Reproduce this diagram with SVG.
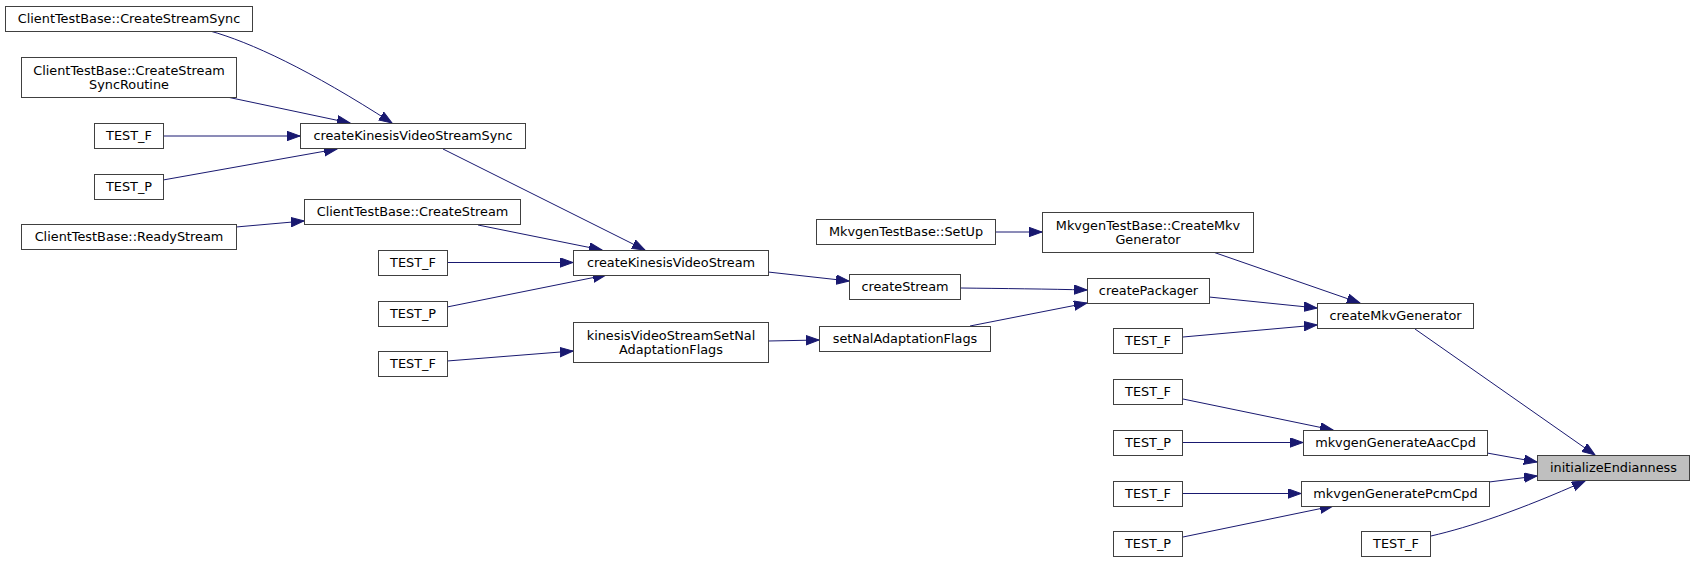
<svg xmlns="http://www.w3.org/2000/svg" width="1695" height="563" viewBox="0 0 1695 563">
<style>
.n rect{fill:#ffffff;stroke:#404040;stroke-width:1}
.n.root rect{fill:#bfbfbf;stroke:#404040}
.n text{font-family:"DejaVu Sans",sans-serif;font-size:12.85px;fill:#000000;text-anchor:middle}
.e path{fill:none;stroke:#191970;stroke-width:1;marker-end:url(#arr)}
</style>
<defs>
<marker id="arr" markerUnits="userSpaceOnUse" markerWidth="15" markerHeight="12" refX="13" refY="5" orient="auto">
<path d="M0,0.3 L13,5 L0,9.7 z" fill="#191970" stroke="#191970" stroke-width="1"/>
</marker>
</defs>
<rect width="1695" height="563" fill="#ffffff"/>
<g id="edges" class="e">
<path d="M210,31 C250,42 310,70 392,123"/>
<path d="M227,97 L350,123"/>
<path d="M163,136 L300,136"/>
<path d="M163,180 L337,149"/>
<path d="M236,227 L304,221"/>
<path d="M443,149 L645,250"/>
<path d="M478,225 L602,250"/>
<path d="M447,262.5 L573,262.5"/>
<path d="M447,307 L606,275"/>
<path d="M447,361 L573,351"/>
<path d="M768,272 L849,281"/>
<path d="M768,341 L819,340"/>
<path d="M995,232 L1042,232"/>
<path d="M961,288 C1000,288.5 1050,289 1087,290"/>
<path d="M970,326 L1087,303"/>
<path d="M1213,252 L1360,303"/>
<path d="M1209,297 L1317,308"/>
<path d="M1183,337 L1317,325"/>
<path d="M1415,329 L1595,455"/>
<path d="M1183,399 L1333,430"/>
<path d="M1183,442.5 L1303,442.5"/>
<path d="M1487,453 L1537,462"/>
<path d="M1183,493.5 L1301,493.5"/>
<path d="M1489,482 L1537,476"/>
<path d="M1183,537 L1333,506"/>
<path d="M1431,536 C1470,527 1520,510 1585,481"/>
</g>
<g id="n1" class="n"><rect x="5.5" y="6.5" width="247" height="25"/><text x="129" y="23">ClientTestBase::CreateStreamSync</text></g>
<g id="n2" class="n"><rect x="21.5" y="57.5" width="215" height="40"/><text x="129" y="74.5">ClientTestBase::CreateStream</text><text x="129" y="88.5">SyncRoutine</text></g>
<g id="n3" class="n"><rect x="94.5" y="123.5" width="69" height="25"/><text x="129" y="140">TEST_F</text></g>
<g id="n4" class="n"><rect x="94.5" y="174.5" width="69" height="25"/><text x="129" y="191">TEST_P</text></g>
<g id="n5" class="n"><rect x="21.5" y="224.5" width="215" height="25"/><text x="129" y="241">ClientTestBase::ReadyStream</text></g>
<g id="n6" class="n"><rect x="300.5" y="123.5" width="225" height="25"/><text x="413" y="140">createKinesisVideoStreamSync</text></g>
<g id="n7" class="n"><rect x="304.5" y="199.5" width="216" height="25"/><text x="412.5" y="216">ClientTestBase::CreateStream</text></g>
<g id="n8" class="n"><rect x="378.5" y="250.5" width="69" height="25"/><text x="413" y="267">TEST_F</text></g>
<g id="n9" class="n"><rect x="378.5" y="301.5" width="69" height="25"/><text x="413" y="318">TEST_P</text></g>
<g id="n10" class="n"><rect x="378.5" y="351.5" width="69" height="25"/><text x="413" y="368">TEST_F</text></g>
<g id="n11" class="n"><rect x="573.5" y="250.5" width="195" height="25"/><text x="671" y="267">createKinesisVideoStream</text></g>
<g id="n12" class="n"><rect x="573.5" y="322.5" width="195" height="40"/><text x="671" y="339.5">kinesisVideoStreamSetNal</text><text x="671" y="353.5">AdaptationFlags</text></g>
<g id="n13" class="n"><rect x="816.5" y="219.5" width="179" height="25"/><text x="906" y="236">MkvgenTestBase::SetUp</text></g>
<g id="n14" class="n"><rect x="849.5" y="274.5" width="111" height="25"/><text x="905" y="291">createStream</text></g>
<g id="n15" class="n"><rect x="819.5" y="326.5" width="171" height="25"/><text x="905" y="343">setNalAdaptationFlags</text></g>
<g id="n16" class="n"><rect x="1042.5" y="212.5" width="211" height="40"/><text x="1148" y="229.5">MkvgenTestBase::CreateMkv</text><text x="1148" y="243.5">Generator</text></g>
<g id="n17" class="n"><rect x="1087.5" y="278.5" width="122" height="25"/><text x="1148.5" y="295">createPackager</text></g>
<g id="n18" class="n"><rect x="1113.5" y="328.5" width="69" height="25"/><text x="1148" y="345">TEST_F</text></g>
<g id="n19" class="n"><rect x="1317.5" y="303.5" width="156" height="25"/><text x="1395.5" y="320">createMkvGenerator</text></g>
<g id="n20" class="n"><rect x="1113.5" y="379.5" width="69" height="25"/><text x="1148" y="396">TEST_F</text></g>
<g id="n21" class="n"><rect x="1113.5" y="430.5" width="69" height="25"/><text x="1148" y="447">TEST_P</text></g>
<g id="n22" class="n"><rect x="1303.5" y="430.5" width="184" height="25"/><text x="1395.5" y="447">mkvgenGenerateAacCpd</text></g>
<g id="n23" class="n"><rect x="1113.5" y="481.5" width="69" height="25"/><text x="1148" y="498">TEST_F</text></g>
<g id="n24" class="n"><rect x="1301.5" y="481.5" width="188" height="25"/><text x="1395.5" y="498">mkvgenGeneratePcmCpd</text></g>
<g id="n25" class="n"><rect x="1113.5" y="531.5" width="69" height="25"/><text x="1148" y="548">TEST_P</text></g>
<g id="n26" class="n root"><rect x="1537.5" y="455.5" width="152" height="25"/><text x="1613.5" y="472">initializeEndianness</text></g>
<g id="n27" class="n"><rect x="1361.5" y="531.5" width="69" height="25"/><text x="1396" y="548">TEST_F</text></g>
</svg>
